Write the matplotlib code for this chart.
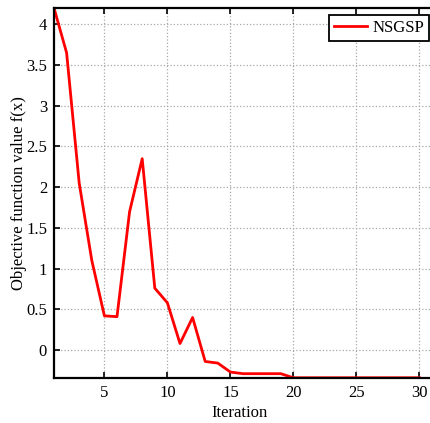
import matplotlib.pyplot as plt

iterations = list(range(1, 31))
nsgsp = [4.2, 3.65, 2.05, 1.1, 0.42, 0.41, 1.7, 2.35, 0.76, 0.58,
         0.08, 0.4, -0.14, -0.16, -0.27, -0.29, -0.29, -0.29, -0.29, -0.34,
         -0.34, -0.34, -0.34, -0.34, -0.34, -0.34, -0.34, -0.34, -0.34, -0.34]

plt.rcParams['font.family'] = ['Liberation Serif', 'DejaVu Serif']

fig = plt.figure(figsize=(4.30, 4.23), dpi=100)
# axes run past the right edge of the figure, as in the cropped original
ax = fig.add_axes([54/430, 1 - 378/423, 392/430, 370/423])

ax.plot(iterations, nsgsp, color='red', lw=2, label='NSGSP')

ax.set_xlim(1, 1 + 392/12.6)
ax.set_ylim(-0.343, 4.2)
ax.set_xticks([5, 10, 15, 20, 25, 30])
ax.set_yticks([0, 0.5, 1, 1.5, 2, 2.5, 3, 3.5, 4])
ax.set_yticklabels(['0', '0.5', '1', '1.5', '2', '2.5', '3', '3.5', '4'])
ax.grid(True, color='#a8a8a8', linestyle=':', lw=0.9)
ax.tick_params(direction='in', top=True, right=True, labelsize=12, length=4, width=1.2, pad=5)
for s in ax.spines.values():
    s.set_linewidth(1.6)

ax.set_xlabel('Iteration', fontsize=12)
ax.set_ylabel('Objective function value f(x)', fontsize=12)
ax.xaxis.set_label_coords(0.474, -0.074)
ax.yaxis.set_label_coords(-0.068, 0.5)

leg = ax.legend(loc='upper right', fontsize=12, fancybox=False, framealpha=1,
                edgecolor='black', handlelength=2.0, handletextpad=0.3,
                borderpad=0.3, borderaxespad=0,
                bbox_to_anchor=(429/430, 1 - 15/423), bbox_transform=fig.transFigure)
leg.get_frame().set_linewidth(1.3)

fig.savefig('out.png', dpi=100)
